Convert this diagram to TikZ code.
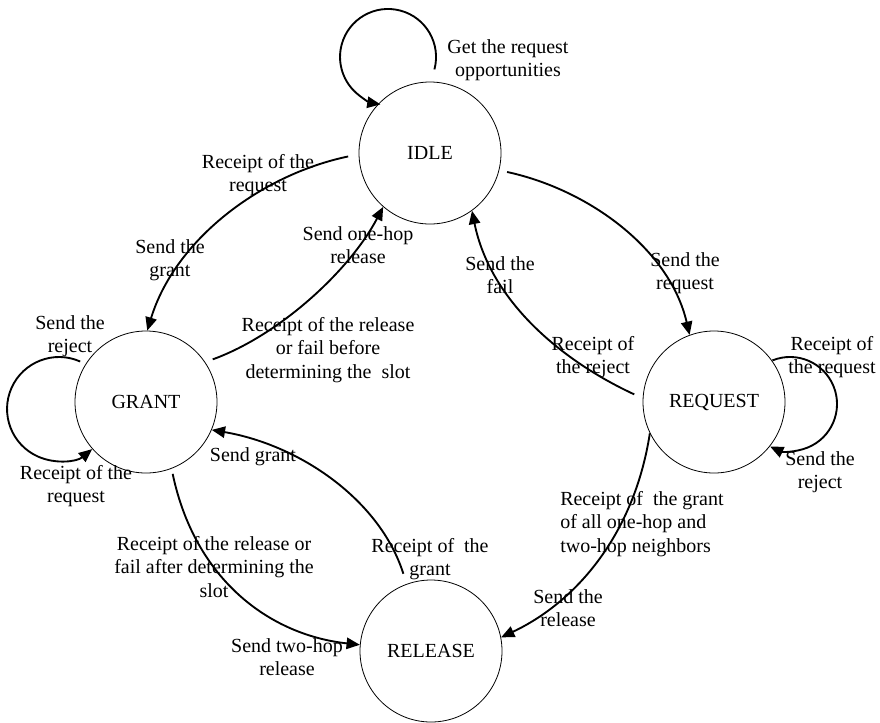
\documentclass[tikz,border=0pt]{standalone}
\usepackage{fontspec}
\setmainfont{Liberation Serif}
\usetikzlibrary{arrows.meta}
\begin{document}
\begin{tikzpicture}[x=0.75pt,y=-0.75pt,
  state/.style={draw,circle,line width=0.6pt,minimum size=106.5pt,inner sep=0pt,
    font=\fontsize{15}{18}\selectfont},
  lbl/.style={inner sep=0pt,align=center,font=\fontsize{15}{17.5}\selectfont},
  trans/.style={line width=1.4pt,-{Triangle[length=10pt,width=8.5pt]}},
  tail/.style={shorten <=#1}]
\useasboundingbox (0,0) rectangle (880,722);

% states
\node[state] (idle)    at (430,153) {IDLE};
\node[state] (grant)   at (146,402) {GRANT};
\node[state] (request) at (714,402) {REQUEST};
\node[state] (release) at (431,651) {RELEASE};

% self-loop starting points
\coordinate (idleloop)    at (434.4,69.4);
\coordinate (grantloop)   at (80.2,361.5);
\coordinate (requestloop) at (772.4,360.4);

% self-loops
\draw[trans] (idleloop) arc[start angle=15,end angle=-261,radius=48];
\draw[trans] (grantloop) arc[start angle=-66,end angle=-309.5,radius=52];
\draw[trans] (requestloop) arc[start angle=-112,end angle=115,radius=47];

% transitions between states
\draw[trans,tail=8pt] (idle.181) .. controls (260,175) and (175,240) .. (grant.89);
\draw[trans,tail=6pt] (grant.34) .. controls (280,335) and (350,270) .. (idle.229);
\draw[trans,tail=6pt] (idle.-14) .. controls (590,190) and (670,250) .. (request.110);
\draw[trans,tail=7pt] (request.177) .. controls (560,360) and (490,300) .. (idle.-54);
\draw[trans] (request.206) .. controls (635,530) and (580,600) .. (release.11);
\draw[trans,tail=8pt] (release.110) .. controls (380,500) and (300,445) .. (grant.-23);
\draw[trans,tail=4pt] (grant.-69) .. controls (195,580) and (270,635) .. (release.175);

% labels
\node[lbl] (l1)  at (508,60)  {Get the request\\opportunities};
\node[lbl] (l2)  at (70,336)  {Send the\\reject};
\node[lbl] (l3)  at (76,486)  {Receipt of the\\request};
\node[lbl] (l4)  at (258,175) {Receipt of the\\request};
\node[lbl] (l5)  at (170,260) {Send the\\grant};
\node[lbl] (l6)  at (358,245) {Send one-hop\\release};
\node[lbl] (l7)  at (328,350) {Receipt of the release\\or fail before\\determining the\ \ slot};
\node[lbl] (l8)  at (685,273) {Send the\\request};
\node[lbl] (l9)  at (500,275) {Send the\\fail};
\node[lbl] (l10) at (593,357) {Receipt of\\the reject};
\node[lbl] (l11) at (832,357) {Receipt of\\the request};
\node[lbl] (l12) at (820,472) {Send the\\reject};
\node[lbl,align=left,anchor=west] (l13) at (560,524) {Receipt of\ \ the grant\\of all one-hop and\\two-hop neighbors};
\node[lbl] (l14) at (568,608) {Send the\\release};
\node[lbl] (l15) at (253,457) {Send grant};
\node[lbl] (l16) at (430,559) {Receipt of\ \ the\\grant};
\node[lbl] (l17) at (214,567) {Receipt of the release or\\fail after determining the\\slot};
\node[lbl] (l18) at (287,657) {Send two-hop\\release};
\end{tikzpicture}
\end{document}
